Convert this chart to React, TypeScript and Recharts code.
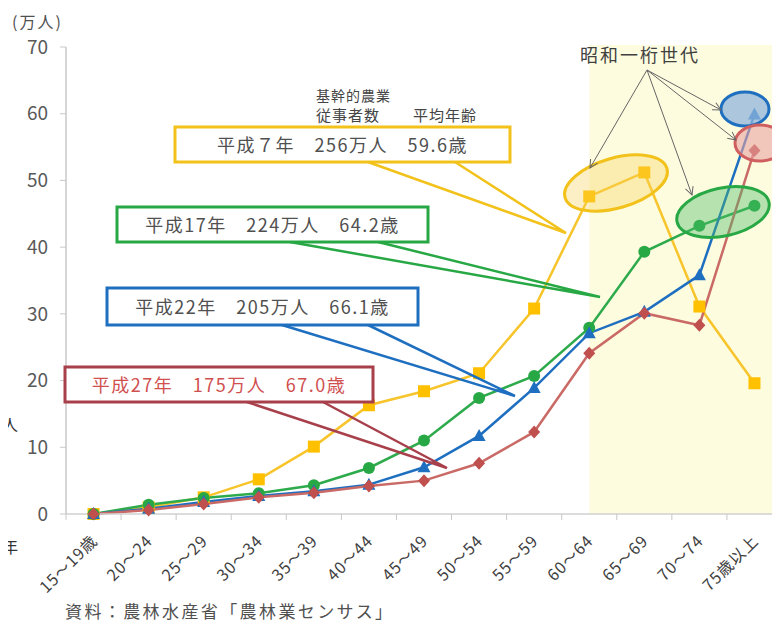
import React from "react";
import {
  LineChart,
  Line,
  XAxis,
  YAxis,
  ReferenceArea,
} from "recharts";

const categories = [
  "15〜19歳",
  "20〜24",
  "25〜29",
  "30〜34",
  "35〜39",
  "40〜44",
  "45〜49",
  "50〜54",
  "55〜59",
  "60〜64",
  "65〜69",
  "70〜74",
  "75歳以上",
];

// 万人
const h7 = [0, 1.0, 2.5, 5.2, 10.1, 16.3, 18.4, 21.1, 30.8, 47.6, 51.2, 31.1, 19.6];
const h17 = [0, 1.4, 2.4, 3.1, 4.3, 6.9, 11.0, 17.4, 20.7, 27.9, 39.3, 43.2, 46.2];
const h22 = [0, 0.8, 1.8, 2.7, 3.4, 4.4, 7.0, 11.7, 18.9, 27.1, 30.3, 35.8, 59.9];
const h27 = [0, 0.6, 1.5, 2.5, 3.2, 4.2, 5.0, 7.6, 12.3, 24.1, 30.1, 28.3, 54.5];

const yTicks = [0, 10, 20, 30, 40, 50, 60, 70];

const data = categories.map((name, i) => ({
  name,
  h7: h7[i],
  h17: h17[i],
  h22: h22[i],
  h27: h27[i],
}));

const YELLOW = "#FFC000";
const GREEN = "#27A844";
const BLUE = "#1F6FC0";
const RED = "#C0504D";

const FONT = '"Noto Sans CJK JP", "Noto Sans", sans-serif';

const squareDot = (props: any) => {
  const { cx, cy, index } = props;
  if (cx == null || cy == null) return <g key={`s-${index}`} />;
  return <rect key={`s-${index}`} x={cx - 6} y={cy - 6} width={12} height={12} fill={YELLOW} />;
};

const circleDot = (props: any) => {
  const { cx, cy, index } = props;
  if (cx == null || cy == null) return <g key={`c-${index}`} />;
  return <circle key={`c-${index}`} cx={cx} cy={cy} r={6} fill={GREEN} />;
};

const triangleDot = (props: any) => {
  const { cx, cy, index } = props;
  if (cx == null || cy == null) return <g key={`t-${index}`} />;
  return (
    <polygon
      key={`t-${index}`}
      points={`${cx},${cy - 7} ${cx + 6.5},${cy + 5} ${cx - 6.5},${cy + 5}`}
      fill={BLUE}
    />
  );
};

const diamondDot = (props: any) => {
  const { cx, cy, index } = props;
  if (cx == null || cy == null) return <g key={`d-${index}`} />;
  return (
    <polygon
      key={`d-${index}`}
      points={`${cx},${cy - 6.5} ${cx + 6},${cy} ${cx},${cy + 6.5} ${cx - 6},${cy}`}
      fill={RED}
    />
  );
};

const XTick = (props: any) => {
  const { x, y, payload, index } = props;
  const half = payload && payload.offset ? payload.offset : 27.5;
  const last = index === categories.length - 1;
  return (
    <g>
      <line x1={x - half} y1={y} x2={x - half} y2={y + 6} stroke="#C8C8C8" />
      {last && <line x1={x + half} y1={y} x2={x + half} y2={y + 6} stroke="#C8C8C8" />}
      <text
        transform={`translate(${x + 5},${y + 28}) rotate(-45)`}
        textAnchor="end"
        fontSize={16}
        letterSpacing={1}
        fill="#404040"
        fontFamily={FONT}
      >
        {payload.value}
      </text>
    </g>
  );
};

// shading starts from the centre of the first band
const shadeShape = (props: any) => {
  const { x, y, width, height } = props;
  const half = width / 8;
  return <rect x={x + half} y={y - 2} width={width} height={height + 2} fill="#FEFCDF" />;
};

function Callout({ a, b, tip, color }: { a: number[]; b: number[]; tip: number[]; color: string }) {
  return (
    <polyline
      points={`${a[0]},${a[1]} ${tip[0]},${tip[1]} ${b[0]},${b[1]}`}
      fill="none"
      stroke={color}
      strokeWidth={2.5}
      strokeLinejoin="miter"
    />
  );
}

function Box({ x, y, w, h, color, text, textColor }: any) {
  return (
    <g>
      <rect x={x} y={y} width={w} height={h} fill="#fff" stroke={color} strokeWidth={3} />
      <text
        x={x + w / 2}
        y={y + h / 2 + 7}
        textAnchor="middle"
        fontSize={18}
        letterSpacing={1.5}
        fill={textColor}
        fontFamily={FONT}
        style={{ whiteSpace: "pre" }}
      >
        {text}
      </text>
    </g>
  );
}

function Overlay() {
  return (
    <svg
      width={780}
      height={636}
      style={{ position: "absolute", left: 0, top: 0, pointerEvents: "none" }}
    >
      <defs>
        <marker id="arr" markerWidth="10" markerHeight="10" refX="9" refY="5" orient="auto" markerUnits="userSpaceOnUse">
          <path d="M1,1 L9,5 L1,9" fill="none" stroke="#666" strokeWidth={1} />
        </marker>
      </defs>

      <text x={12} y={28} fontSize={16} letterSpacing={2} fill="#505050" fontFamily={FONT}>(万人)</text>
      <text x={2} y={431} fontSize={16} fill="#333" fontFamily={FONT}>人</text>
      <text x={2} y={553} fontSize={16} fill="#333" fontFamily={FONT}>年</text>

      <text x={316} y={101} fontSize={14} letterSpacing={1} fill="#444" fontFamily={FONT}>基幹的農業</text>
      <text x={316} y={121} fontSize={15} letterSpacing={1} fill="#444" fontFamily={FONT}>従事者数</text>
      <text x={413} y={121} fontSize={15} letterSpacing={1} fill="#444" fontFamily={FONT}>平均年齢</text>

      <Callout a={[368, 162]} b={[455, 162]} tip={[566, 233]} color="#F2C21B" />
      <Callout a={[290, 242]} b={[378, 242]} tip={[600, 297]} color={GREEN} />
      <Callout a={[282, 325]} b={[368, 325]} tip={[515, 396]} color={BLUE} />
      <Callout a={[247, 402]} b={[323, 402]} tip={[447, 468]} color="#A8404C" />

      <Box x={175} y={127} w={335} h={35} color="#F2C21B" textColor="#505050" text="平成７年　256万人　59.6歳" />
      <Box x={117} y={207} w={311} h={35} color={GREEN} textColor="#505050" text="平成17年　224万人　64.2歳" />
      <Box x={107} y={288} w={311} h={37} color={BLUE} textColor="#505050" text="平成22年　205万人　66.1歳" />
      <Box x={65} y={367} w={308} h={35} color="#A8404C" textColor="#D05050" text="平成27年　175万人　67.0歳" />

      <ellipse cx={616} cy={183} rx={53} ry={25} transform="rotate(-16 616 183)" fill="#F6D25A" fillOpacity={0.35} stroke="#F2C21B" strokeWidth={3} />
      <ellipse cx={723} cy={212} rx={47} ry={24} transform="rotate(-12 723 212)" fill="#4CBB6A" fillOpacity={0.4} stroke={GREEN} strokeWidth={3} />
      <ellipse cx={745} cy={109} rx={24} ry={17} fill="#8FB4DC" fillOpacity={0.75} stroke={BLUE} strokeWidth={3} />
      <ellipse cx={760} cy={143} rx={25} ry={18} fill="#E8A4A4" fillOpacity={0.6} stroke="#D06060" strokeWidth={3} />

      <text x={580} y={62} fontSize={18} letterSpacing={2} fill="#404040" fontFamily={FONT}>昭和一桁世代</text>
      <line x1={647} y1={70} x2={590} y2={168} stroke="#666" strokeWidth={1} markerEnd="url(#arr)" />
      <line x1={647} y1={70} x2={692} y2={195} stroke="#666" strokeWidth={1} markerEnd="url(#arr)" />
      <line x1={647} y1={70} x2={721} y2={110} stroke="#666" strokeWidth={1} markerEnd="url(#arr)" />
      <line x1={647} y1={70} x2={736} y2={140} stroke="#666" strokeWidth={1} markerEnd="url(#arr)" />

      <text x={65} y={618} fontSize={17} letterSpacing={2.4} fill="#505050" fontFamily={FONT}>資料：農林水産省「農林業センサス」</text>
    </svg>
  );
}

export default function App() {
  return (
    <div
      style={{
        position: "relative",
        width: 780,
        height: 636,
        margin: -8,
        overflow: "hidden",
        background: "#fff",
        fontFamily: FONT,
      }}
    >
      <LineChart
        width={790}
        height={636}
        data={data}
        margin={{ top: 47, right: 8, bottom: 42, left: 0 }}
      >
        <ReferenceArea
          x1="60〜64"
          x2="75歳以上"
          y1={0}
          y2={70}
          shape={shadeShape}
          ifOverflow="visible"
        />
        <XAxis
          dataKey="name"
          scale="band"
          interval={0}
          height={80}
          tick={<XTick />}
          tickLine={false}
          tickSize={0}
          tickMargin={0}
          axisLine={{ stroke: "#D0D0D0", strokeWidth: 1.5 }}
        />
        <YAxis
          domain={[0, 70]}
          ticks={yTicks}
          width={66}
          tickSize={6}
          tickMargin={12}
          tick={{ fontSize: 19, fill: "#595959", fontFamily: FONT }}
          axisLine={{ stroke: "#C8C8C8", strokeWidth: 1.5 }}
          tickLine={{ stroke: "#C8C8C8" }}
        />
        <Line
          dataKey="h7"
          stroke="#F7C52B"
          strokeWidth={2.5}
          dot={squareDot}
          activeDot={false}
          isAnimationActive={false}
        />
        <Line
          dataKey="h17"
          stroke="#2DAA4B"
          strokeWidth={2.5}
          dot={circleDot}
          activeDot={false}
          isAnimationActive={false}
        />
        <Line
          dataKey="h22"
          stroke={BLUE}
          strokeWidth={2.5}
          dot={triangleDot}
          activeDot={false}
          isAnimationActive={false}
        />
        <Line
          dataKey="h27"
          stroke="#C96A66"
          strokeWidth={2.5}
          dot={diamondDot}
          activeDot={false}
          isAnimationActive={false}
        />
      </LineChart>
      <Overlay />
    </div>
  );
}
